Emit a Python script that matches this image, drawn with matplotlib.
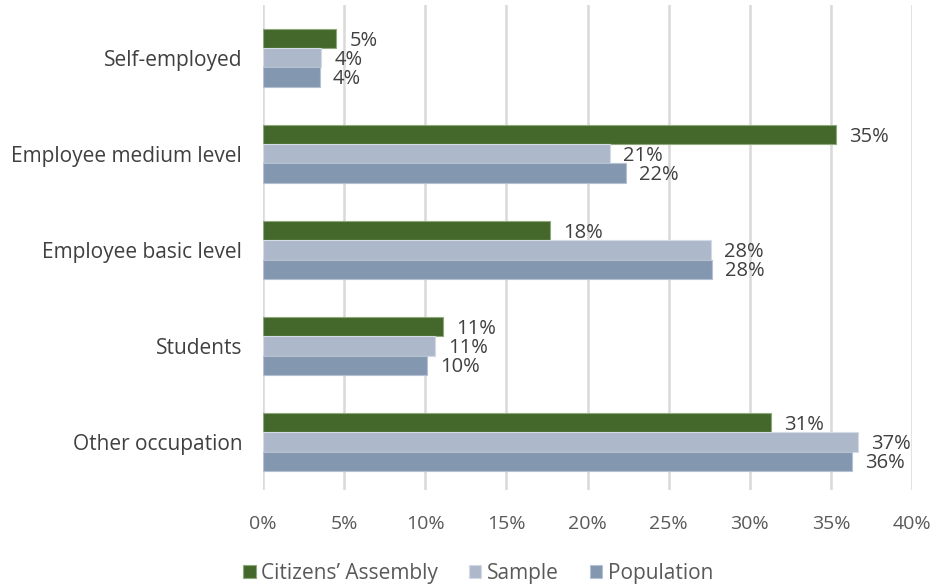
import matplotlib
matplotlib.use("Agg")
import matplotlib.pyplot as plt
import numpy as np

plt.rcParams['font.family'] = ['Open Sans', 'DejaVu Sans']

categories = ["Self-employed", "Employee medium level", "Employee basic level",
              "Students", "Other occupation"]
series_names = ["Citizens\u2019 Assembly", "Sample", "Population"]
assembly = [4.52, 35.3, 17.7, 11.1, 31.3]
sample = [3.6, 21.4, 27.6, 10.6, 36.7]
population = [3.5, 22.4, 27.7, 10.1, 36.3]
x_ticks = [0, 5, 10, 15, 20, 25, 30, 35, 40]

colors = ["#44682c", "#adb9ca", "#8497b0"]
edges = ["#8fa97c", "#d3dae4", "#b5c1d2"]

fig = plt.figure(figsize=(9.38, 5.87), dpi=100)
ax = fig.add_axes([263 / 938, 1 - 490 / 587, (912 - 263) / 938, (490 - 5) / 587])

n = len(categories)
centers = np.arange(n)
bar_h = 0.2
offsets = [-bar_h, 0, bar_h]
for vals, name, col, ec, off in zip([assembly, sample, population], series_names,
                                    colors, edges, offsets):
    bars = ax.barh(centers + off, vals, height=bar_h, color=col, edgecolor=ec,
                   linewidth=0.8, label=name, zorder=3)
    for b, v in zip(bars, vals):
        ax.text(b.get_width() + 0.8, b.get_y() + b.get_height() / 2 + 0.02,
                f"{v:.0f}%", va="center", ha="left", fontsize=14.5,
                color="#404040")

ax.set_ylim(n - 0.5 + 0.0, -0.55)
ax.set_xlim(0, 40)
ax.set_xticks(x_ticks)
ax.set_xticklabels([f"{t}%" for t in x_ticks], fontsize=14, color="#595959")
ax.set_yticks(centers)
ax.set_yticklabels(categories, fontsize=15, color="#404040")
ax.tick_params(axis="both", length=0)
ax.tick_params(axis="x", pad=18)
ax.tick_params(axis="y", pad=15)
ax.grid(axis="x", color="#d9d9d9", linewidth=1.8, zorder=0)
for s in ax.spines.values():
    s.set_visible(False)

handles, labels = ax.get_legend_handles_labels()
fig.legend(handles, labels, loc="center", bbox_to_anchor=(478 / 938, 1 - 573 / 587),
           ncol=3, frameon=False, fontsize=15, handlelength=0.6, handleheight=0.6,
           handletextpad=0.25, columnspacing=1.5, labelcolor="#595959")

fig.savefig("out.png", dpi=100)
